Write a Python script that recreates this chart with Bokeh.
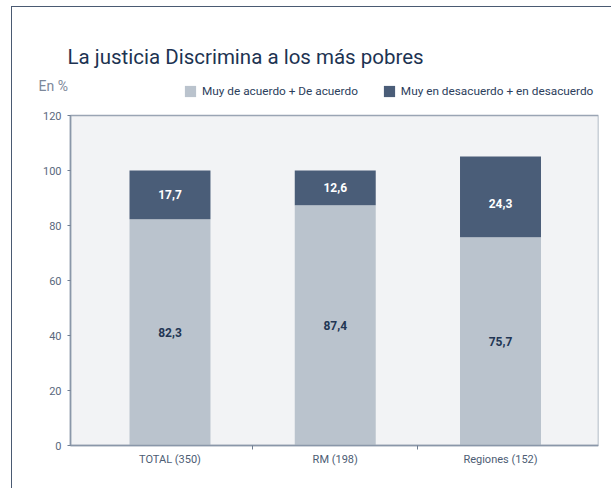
from bokeh.plotting import figure
from bokeh.models import (Range1d, FixedTicker, Legend, LegendItem, Label,
                          ColumnDataSource, LabelSet)
from bokeh.embed import file_html
from bokeh.resources import INLINE
from bokeh.core.properties import value

# ---- data ----
categories = ["TOTAL (350)", "RM (198)", "Regiones (152)"]
agree = [82.3, 87.4, 75.7]
disagree = [17.7, 12.6, 24.3]
# dark segment heights as actually drawn in the picture (Regiones bar reaches ~105)
disagree_drawn = [17.7, 12.6, 29.4]
y_ticks = [0, 20, 40, 60, 80, 100, 120]
series_names = ["Muy de acuerdo + De acuerdo", "Muy en desacuerdo + en desacuerdo"]
title_text = "La justicia Discrimina a los más pobres"
y_unit = "En %"

LIGHT = "#bac3cd"
DARK = "#4a5d78"
NAVY = "#223654"
FONT = "Roboto"

# plot-area extent in data units; the frame extends beyond it so that
# header texts and axis labels are not clipped
PX_X, PX_Y = 165.25, 2.75          # pixels per data unit
X0, X1 = -0.602, 2.593
XL = X0 - 38 / PX_X
Y_MAX = y_ticks[-1]
Y_TOP = 438 / PX_Y
Y_BOT = -25 / PX_Y

xs = list(range(len(categories)))
src = ColumnDataSource(dict(
    x=xs,
    agree=agree,
    top2=[a + d for a, d in zip(agree, disagree_drawn)],
    agree_mid=[a / 2 for a in agree],
    dis_mid=[a + d / 2 for a, d in zip(agree, disagree)],
    agree_lbl=[f"{a:.1f}".replace(".", ",") for a in agree],
    dis_lbl=[f"{d:.1f}".replace(".", ",") for d in disagree],
))

p = figure(width=600, height=482, output_backend="svg", toolbar_location=None,
           x_range=Range1d(XL, X1), y_range=Range1d(Y_BOT, Y_TOP),
           min_border_left=20, min_border_right=14, min_border_top=0,
           min_border_bottom=19, background_fill_color="white",
           border_fill_color="white")
p.styles = {"margin-left": "11px", "margin-top": "6px",
            "border-left": "1px solid #4a5a72", "border-top": "1px solid #4a5a72"}

p.grid.visible = False
p.outline_line_color = None

# plot area background with its border
p.quad(left=[X0], right=[X1], bottom=[0], top=[Y_MAX],
       fill_color="#f2f3f5", line_color="#9aa5b4", line_width=1.5)

r1 = p.vbar(x="x", bottom=0, top="agree", width=0.49, source=src,
            fill_color=LIGHT, line_color=None)
r2 = p.vbar(x="x", bottom="agree", top="top2", width=0.49, source=src,
            fill_color=DARK, line_color=None)

p.add_layout(LabelSet(x="x", y="agree_mid", text="agree_lbl", source=src,
                      text_align="center", text_baseline="middle",
                      text_font=value(FONT), text_font_style="bold",
                      text_font_size="12px", text_color=NAVY))
p.add_layout(LabelSet(x="x", y="dis_mid", text="dis_lbl", source=src,
                      text_align="center", text_baseline="middle",
                      text_font=value(FONT), text_font_style="bold",
                      text_font_size="12px", text_color="white"))

# axes
xa = p.xaxis[0]
xa.fixed_location = 0
xa.ticker = FixedTicker(ticks=xs, minor_ticks=[0.5, 1.5])
xa.bounds = (X0, X1)
xa.major_label_overrides = {i: c for i, c in enumerate(categories)}
xa.major_tick_line_color = None
xa.minor_tick_in = 0
xa.minor_tick_out = 4
xa.minor_tick_line_color = "#6f7d91"
xa.axis_line_color = "#8a97a9"
xa.axis_line_width = 1.5
xa.major_label_standoff = 1
xa.major_label_text_font = FONT
xa.major_label_text_font_size = "11px"
xa.major_label_text_color = "#4d5d74"

ya = p.yaxis[0]
ya.fixed_location = X0
ya.ticker = FixedTicker(ticks=y_ticks)
ya.bounds = (0, Y_MAX)
ya.minor_tick_line_color = None
ya.major_tick_in = 0
ya.major_tick_out = 3
ya.major_tick_line_color = "#6f7d91"
ya.axis_line_color = "#8a97a9"
ya.axis_line_width = 1.5
ya.major_label_standoff = 6
ya.major_label_text_font = FONT
ya.major_label_text_font_size = "11px"
ya.major_label_text_color = "#5a687d"

# title and unit label
p.add_layout(Label(x=X0, y=Y_MAX, x_offset=-3, y_offset=59, text=title_text,
                   text_font=FONT, text_font_size="20.5px",
                   text_color="#1d3352", text_baseline="middle"))
p.add_layout(Label(x=X0, y=Y_MAX, x_offset=-32, y_offset=30, text=y_unit,
                   text_font=FONT, text_font_size="14px",
                   text_color="#7d889a", text_baseline="middle"))

legend = Legend(items=[LegendItem(label=series_names[0], renderers=[r1]),
                       LegendItem(label=series_names[1], renderers=[r2])],
                location=(151, 347 + 25), orientation="horizontal",
                padding=0, margin=0, spacing=24, label_standoff=5,
                glyph_width=14, glyph_height=14, label_height=14,
                border_line_color=None, background_fill_alpha=0,
                label_text_font=FONT, label_text_font_size="11.8px",
                label_text_color="#2c3e5c")
p.add_layout(legend)

open("out.html", "w").write(file_html(p, INLINE))
